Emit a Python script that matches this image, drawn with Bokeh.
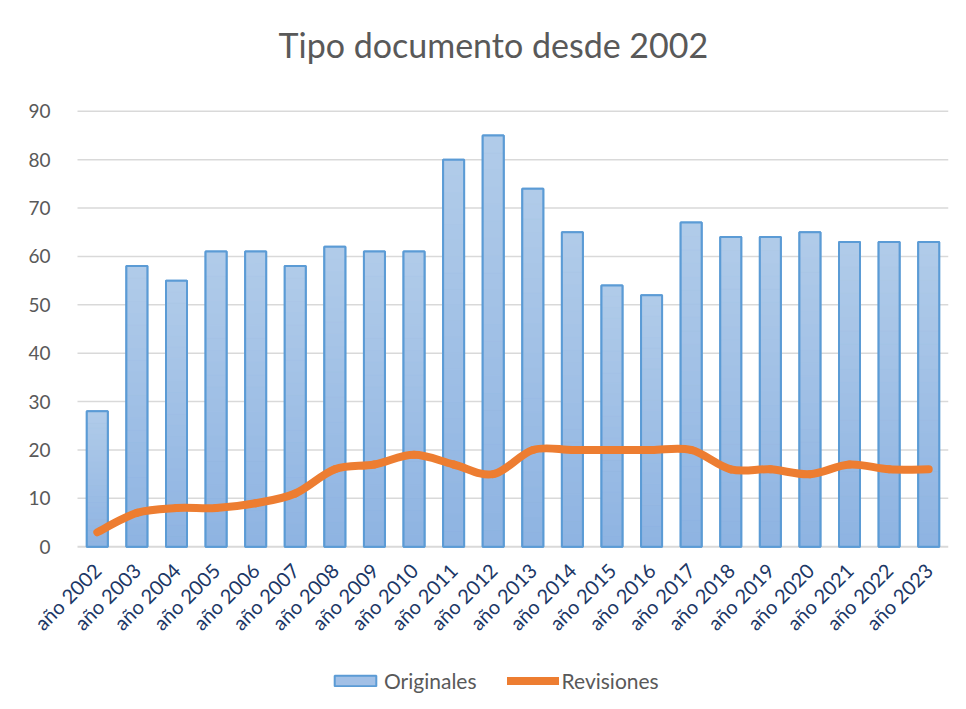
import numpy as np
from bokeh.plotting import figure
from bokeh.models import FixedTicker, Legend, LegendItem, ColumnDataSource, Range1d
from bokeh.embed import file_html
from bokeh.resources import INLINE

labels = ["año 2002", "año 2003", "año 2004", "año 2005", "año 2006", "año 2007",
          "año 2008", "año 2009", "año 2010", "año 2011", "año 2012", "año 2013",
          "año 2014", "año 2015", "año 2016", "año 2017", "año 2018", "año 2019",
          "año 2020", "año 2021", "año 2022", "año 2023"]
originales = [28, 58, 55, 61, 61, 58, 62, 61, 61, 80, 85, 74, 65, 54, 52, 67, 64, 64, 65, 63, 63, 63]
revisiones = [3, 7, 8, 8, 9, 11, 16, 17, 19, 17, 15, 20, 20, 20, 20, 20, 16, 16, 15, 17, 16, 16]
y_ticks = [0, 10, 20, 30, 40, 50, 60, 70, 80, 90]

FONT = "Lato"
GRAY = "#595959"
NAVY = "#1c3766"
BAR_LINE = "#5b9bd5"
ORANGE = "#ed7d31"
GRID = "#d9d9d9"

n = len(labels)
xs = np.arange(n)

# The frame covers the whole chart body; both axes are pinned inside it so
# that tick labels and the legend are not clipped.
PX_PER_X = 871 / n
PX_PER_Y = 439 / 90
X_LEFT = -0.5 - 57 / PX_PER_X
Y_BOTTOM = -156 / PX_PER_Y
Y_TOP = 90 + 26 / PX_PER_Y
p = figure(width=958, height=701, output_backend="svg", toolbar_location=None,
           x_range=Range1d(X_LEFT, n - 0.5), y_range=Range1d(Y_BOTTOM, Y_TOP),
           min_border_left=20, min_border_right=10, min_border_top=80,
           min_border_bottom=0)
p.outline_line_color = None
p.background_fill_color = "white"
p.border_fill_color = "white"

# title
p.title.text = "Tipo documento desde 2002"
p.title.align = "left"
p.title.text_font = FONT
p.title.text_font_size = "34px"
p.title.text_font_style = "normal"
p.title.text_color = GRAY
p.title.standoff = 42
p.title.offset = 258

# horizontal gridlines, only across the category span
p.xgrid.grid_line_color = None
p.ygrid.grid_line_color = None
gw = [2 if t == 0 else 1.5 for t in y_ticks]
p.segment(x0=[-0.5] * len(y_ticks), x1=[n - 0.5] * len(y_ticks),
          y0=y_ticks, y1=y_ticks, line_color=GRID, line_width=gw)

BW = 0.53
# base bar (also the legend swatch)
base = p.vbar(x=xs, top=originales, width=BW, fill_color="#a2c0e6",
              line_color=BAR_LINE, line_width=2)

# gradient bands per bar (light at top, darker at bottom)
top_col = np.array([0xb1, 0xcb, 0xe9])
bot_col = np.array([0x8e, 0xb4, 0xe2])
N = 24
bx, bb, bt, bc = [], [], [], []
for i, v in enumerate(originales):
    for k in range(N):
        t = (k + 0.5) / N
        c = bot_col + (top_col - bot_col) * t
        bx.append(i)
        bb.append(v * k / N)
        bt.append(v * (k + 1) / N)
        bc.append("#%02x%02x%02x" % tuple(int(round(q)) for q in c))
band_src = ColumnDataSource(dict(x=bx, bottom=bb, top=bt, color=bc))
p.vbar(x="x", bottom="bottom", top="top", width=BW, source=band_src,
       fill_color="color", line_color="color", line_width=0.6)
p.vbar(x=xs, top=originales, width=BW, fill_color=None,
       line_color=BAR_LINE, line_width=2)

# smoothed line (Catmull-Rom -> cubic Bezier through data points)
r = np.array(revisiones, dtype=float)
xf = xs.astype(float)
def at(a, i):
    return a[min(max(i, 0), len(a) - 1)]
seg = dict(x0=[], y0=[], x1=[], y1=[], cx0=[], cy0=[], cx1=[], cy1=[])
for i in range(n - 1):
    seg["x0"].append(xf[i]); seg["y0"].append(r[i])
    seg["x1"].append(xf[i + 1]); seg["y1"].append(r[i + 1])
    seg["cx0"].append(xf[i] + (at(xf, i + 1) - at(xf, i - 1)) / 6)
    seg["cy0"].append(r[i] + (at(r, i + 1) - at(r, i - 1)) / 6)
    seg["cx1"].append(xf[i + 1] - (at(xf, i + 2) - at(xf, i)) / 6)
    seg["cy1"].append(r[i + 1] - (at(r, i + 2) - at(r, i)) / 6)
curve = p.bezier(x0="x0", y0="y0", x1="x1", y1="y1", cx0="cx0", cy0="cy0",
                 cx1="cx1", cy1="cy1", source=ColumnDataSource(seg),
                 line_color=ORANGE, line_width=8, line_cap="round")

# axes
xa = p.xaxis[0]
xa.fixed_location = 0
xa.ticker = FixedTicker(ticks=list(range(n)))
xa.major_label_overrides = {i: lab for i, lab in enumerate(labels)}
xa.major_label_orientation = np.pi / 4
xa.major_label_text_font = FONT
xa.major_label_text_font_size = "20px"
xa.major_label_text_color = NAVY
xa.axis_line_color = None
xa.major_tick_line_color = None
xa.minor_tick_line_color = None
xa.major_label_standoff = 14

ya = p.yaxis[0]
ya.fixed_location = -0.5
ya.ticker = FixedTicker(ticks=y_ticks)
ya.major_label_text_font = FONT
ya.major_label_text_font_size = "19px"
ya.major_label_text_color = GRAY
ya.axis_line_color = None
ya.major_tick_line_color = None
ya.minor_tick_line_color = None
ya.major_label_standoff = 21

legend = Legend(items=[LegendItem(label="Originales", renderers=[base]),
                       LegendItem(label="Revisiones", renderers=[curve])],
                orientation="horizontal", location=(309, 8),
                border_line_color=None, background_fill_alpha=0,
                label_text_font=FONT, label_text_font_size="21px",
                label_text_color=GRAY, glyph_width=52, glyph_height=13,
                spacing=30, label_standoff=3, padding=4, margin=0)
p.add_layout(legend, "center")

open("out.html", "w").write(file_html(p, INLINE))
